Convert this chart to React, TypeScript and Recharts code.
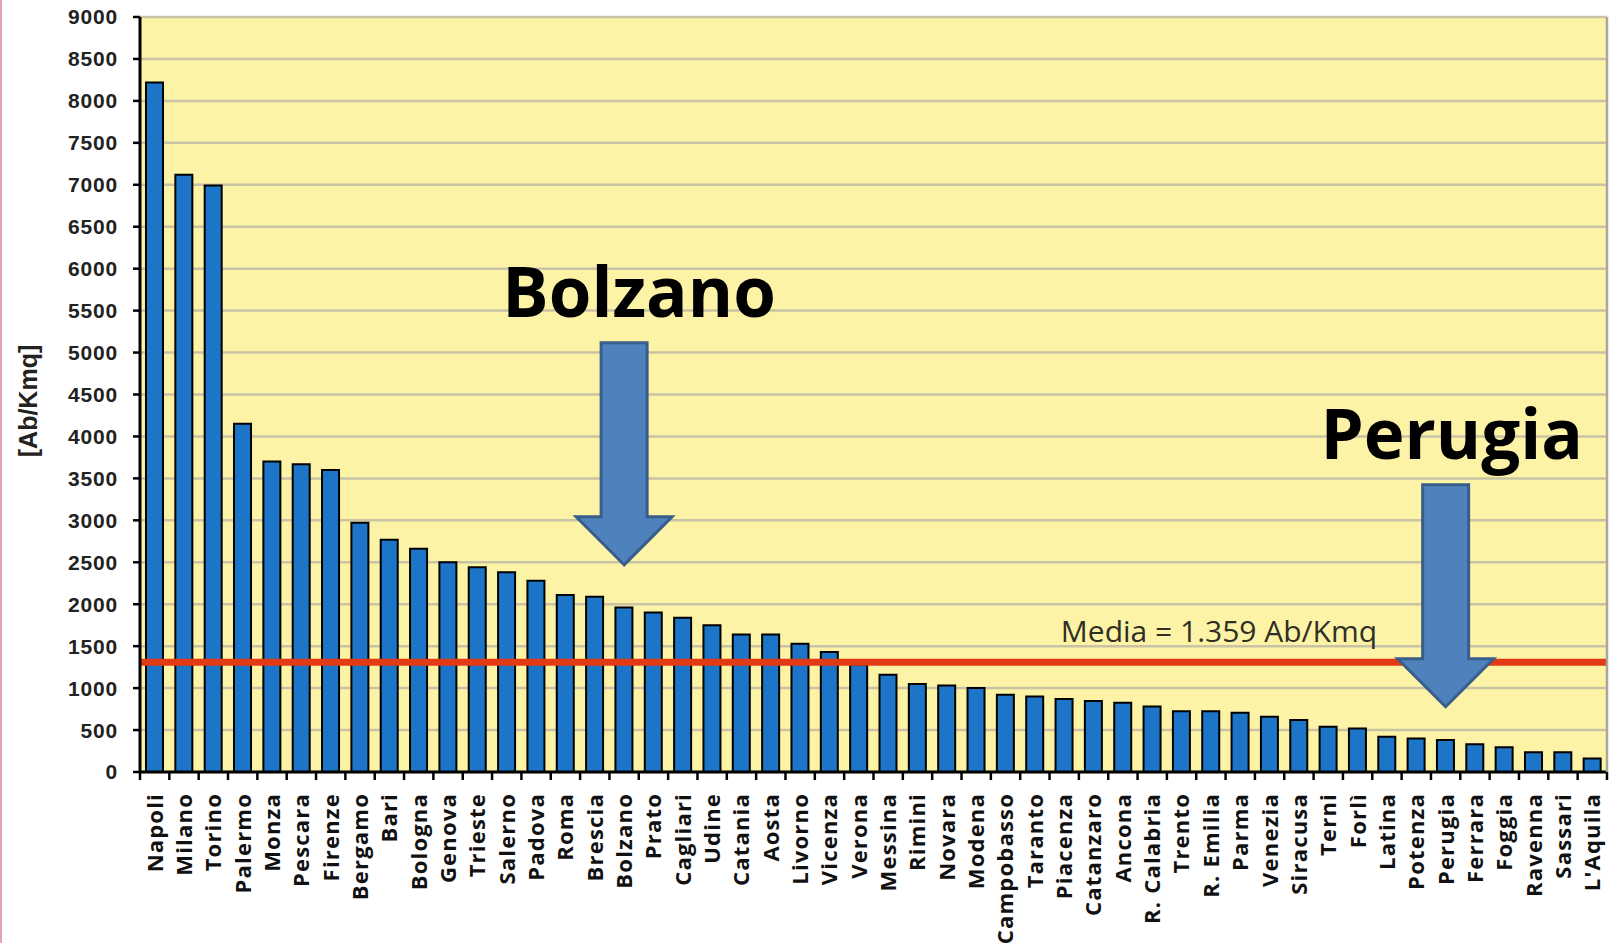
import React from 'react';
import { BarChart, Bar, XAxis, YAxis, CartesianGrid, ReferenceLine, ReferenceDot } from 'recharts';

const cities = [
  'Napoli', 'Milano', 'Torino', 'Palermo', 'Monza', 'Pescara', 'Firenze', 'Bergamo', 'Bari', 'Bologna',
  'Genova', 'Trieste', 'Salerno', 'Padova', 'Roma', 'Brescia', 'Bolzano', 'Prato', 'Cagliari', 'Udine',
  'Catania', 'Aosta', 'Livorno', 'Vicenza', 'Verona', 'Messina', 'Rimini', 'Novara', 'Modena', 'Campobasso',
  'Taranto', 'Piacenza', 'Catanzaro', 'Ancona', 'R. Calabria', 'Trento', 'R. Emilia', 'Parma', 'Venezia', 'Siracusa',
  'Terni', 'Forlì', 'Latina', 'Potenza', 'Perugia', 'Ferrara', 'Foggia', 'Ravenna', 'Sassari', "L'Aquila",
];

// abitanti per km²
const density = [
  8220, 7120, 6990, 4150, 3700, 3670, 3600, 2970, 2770, 2660,
  2500, 2440, 2380, 2280, 2110, 2090, 1960, 1900, 1840, 1750,
  1640, 1640, 1530, 1430, 1280, 1160, 1050, 1030, 1000, 920,
  900, 870, 845, 825, 780, 725, 725, 705, 660, 620,
  540, 520, 420, 400, 380, 330, 295, 235, 235, 160,
];

const yTicks = [0, 500, 1000, 1500, 2000, 2500, 3000, 3500, 4000, 4500, 5000, 5500, 6000, 6500, 7000, 7500, 8000, 8500, 9000];

const MEDIA_LINE = 1308;
const MEDIA_TEXT = 'Media = 1.359 Ab/Kmq';

const data = cities.map((city, i) => ({ city, value: density[i] }));

const W = 1612;
const H = 943;
const PLOT_LEFT = 140;
const PLOT_RIGHT = 1607;
const BAND = (PLOT_RIGHT - PLOT_LEFT) / cities.length;

const CityTick = (props: any) => {
  const { x, y, payload, index } = props;
  const half = BAND / 2;
  return (
    <g transform={`translate(${x},${y})`}>
      {index === 0 && <line x1={-half} x2={-half} y1={0} y2={8} stroke="#000" strokeWidth={2.5} />}
      <line x1={half} x2={half} y1={0} y2={8} stroke="#000" strokeWidth={2.5} />
      <text
        transform="rotate(-90)"
        x={-21}
        y={0}
        dy="0.36em"
        textAnchor="end"
        fontFamily="'Open Sans', sans-serif"
        fontWeight={700}
        fontSize={22}
        letterSpacing={1.2}
        fill="#111"
      >
        {payload.value}
      </text>
    </g>
  );
};

const MediaLabel = (props: any) => {
  const vb = props.viewBox || {};
  return (
    <text
      x={vb.x + vb.width * 0.7355}
      y={vb.y - 20}
      textAnchor="middle"
      fontFamily="'Open Sans', sans-serif"
      fontSize={30}
      fill="#2f2f24"
    >
      {MEDIA_TEXT}
    </text>
  );
};

const DownArrow = ({ cx, cy, text, textDx }: any) => {
  const headHalf = 48;
  const headH = 48;
  const shaftHalf = 23;
  const shaftLen = 174;
  const pts = [
    [cx, cy],
    [cx - headHalf, cy - headH],
    [cx - shaftHalf, cy - headH],
    [cx - shaftHalf, cy - headH - shaftLen],
    [cx + shaftHalf, cy - headH - shaftLen],
    [cx + shaftHalf, cy - headH],
    [cx + headHalf, cy - headH],
  ]
    .map((p) => p.join(','))
    .join(' ');
  return (
    <g>
      <polygon points={pts} fill="#4f81bd" stroke="#385d8a" strokeWidth={3} strokeLinejoin="miter" />
      <text
        x={cx + textDx}
        y={cy - 248}
        textAnchor="middle"
        fontFamily="'Open Sans', sans-serif"
        fontWeight={700}
        fontSize={69}
        fill="#000"
      >
        {text}
      </text>
    </g>
  );
};

export default function App() {
  return (
    <div style={{ position: 'absolute', left: 0, top: 0, width: W, height: H, background: '#fff' }}>
      <div style={{ position: 'absolute', left: 0, top: 0, width: 2, height: H, background: '#e3a3b6' }} />
      <BarChart
        width={W}
        height={H}
        data={data}
        margin={{ top: 17, right: 0, bottom: 0, left: 0 }}
        barSize={17}
      >
        <CartesianGrid
          vertical={false}
          fill="#fcf3a6"
          fillOpacity={1}
          stroke="#c9c3a6"
          strokeWidth={2.5}
        />
        <XAxis
          dataKey="city"
          interval={0}
          height={171}
          tickLine={false}
          tickSize={0}
          tickMargin={0}
          axisLine={{ stroke: '#000', strokeWidth: 3 }}
          tick={<CityTick />}
        />
        <YAxis
          width={140}
          domain={[0, 9000]}
          ticks={yTicks}
          interval={0}
          tickSize={7}
          tickMargin={15}
          tickLine={{ stroke: '#000', strokeWidth: 2.5 }}
          axisLine={{ stroke: '#000', strokeWidth: 3 }}
          tick={{ fontFamily: "'Liberation Sans', Arial, sans-serif", fontWeight: 700, fontSize: 21, fill: '#222', letterSpacing: 0.8 }}
        />
        <YAxis
          yAxisId="frame"
          orientation="right"
          width={5}
          tick={false}
          tickLine={false}
          axisLine={{ stroke: '#a9a79c', strokeWidth: 2.5 }}
        />
        <Bar dataKey="value" fill="#1d75c8" stroke="#000" strokeWidth={2} isAnimationActive={false} />
        <ReferenceLine y={MEDIA_LINE} stroke="#e23a12" strokeWidth={7} label={<MediaLabel />} />
        <ReferenceDot
          x="Bolzano"
          y={2470}
          r={1}
          shape={(p: any) => <DownArrow cx={p.cx} cy={p.cy} text="Bolzano" textDx={15} />}
        />
        <ReferenceDot
          x="Perugia"
          y={778}
          r={1}
          shape={(p: any) => <DownArrow cx={p.cx} cy={p.cy} text="Perugia" textDx={6} />}
        />
      </BarChart>
      <div
        style={{
          position: 'absolute',
          left: 27.5,
          top: 401,
          transform: 'translate(-50%, -50%) rotate(-90deg)',
          fontFamily: "'Liberation Sans', Arial, sans-serif",
          fontWeight: 700,
          fontSize: 25,
          color: '#222',
          whiteSpace: 'nowrap',
        }}
      >
        [Ab/Kmq]
      </div>
    </div>
  );
}
